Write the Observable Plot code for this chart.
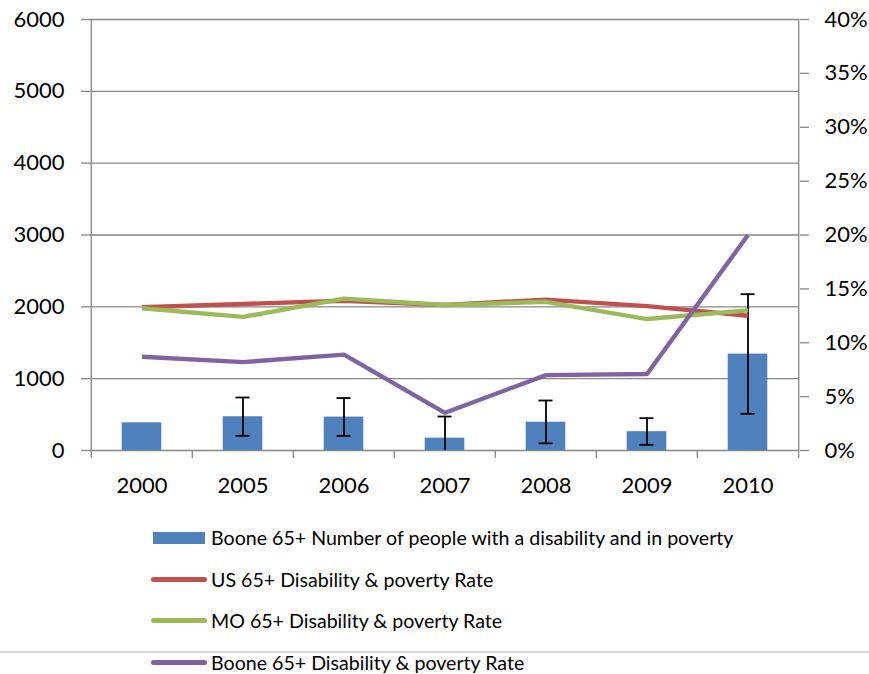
<!DOCTYPE html>
<html>
<head>
<meta charset="utf-8">
<script src="https://cdn.jsdelivr.net/npm/d3@7"></script>
<script src="https://cdn.jsdelivr.net/npm/@observablehq/plot@0.6"></script>
<style>
  html, body { margin: 0; padding: 0; background: #fff; }
  #wrap { position: relative; width: 869px; height: 674px; overflow: hidden; font-family: Lato, "Open Sans", sans-serif; }
  #chart svg { display: block; }
  #legend { padding-top: 12px; }
  .row { height: 41.6px; display: flex; align-items: center; padding-left: 151px; }
  .sw { flex: none; }
  .sw.bar { width: 52.5px; height: 12px; margin-left: 1.5px; margin-right: 6px; }
  .sw.ln { width: 56px; height: 5px; border-radius: 3px; margin-right: 4px; }
  .lbl { font-size: 19.6px; color: #000; white-space: nowrap; }
  #border { position: absolute; left: 0; top: 651px; width: 869px; height: 2px; background: #d9d9d9; }
</style>
</head>
<body>
<div id="wrap">
  <div id="chart"></div>
  <div id="border"></div>
  <div id="legend"></div>
</div>
<script>
// ---- data ----
const years = ["2000", "2005", "2006", "2007", "2008", "2009", "2010"];
const booneCount = [385, 470, 465, 172, 394, 262, 1342];
const booneCountLow = [null, 204, 204, -130, 100, 79, 511];
const booneCountHigh = [null, 738, 730, 473, 696, 450, 2176];
const usRate = [13.3, 13.6, 13.9, 13.5, 14.0, 13.4, 12.5];
const moRate = [13.2, 12.4, 14.1, 13.5, 13.8, 12.2, 13.0];
const booneRate = [8.7, 8.2, 8.9, 3.5, 7.0, 7.1, 20.0];
const leftTicks = [0, 1000, 2000, 3000, 4000, 5000, 6000];
const rightTicks = [0, 5, 10, 15, 20, 25, 30, 35, 40];
const rightTickLabels = ["0%", "5%", "10%", "15%", "20%", "25%", "30%", "35%", "40%"];
const seriesNames = [
  "Boone 65+ Number of people with a disability and in poverty",
  "US 65+ Disability & poverty Rate",
  "MO 65+ Disability & poverty Rate",
  "Boone 65+ Disability & poverty Rate"
];
const colors = ["#4F81BD", "#C0504D", "#9BBB59", "#8064A2"];

// ---- layout ----
const W = 869, H = 505;
const mL = 89, mR = 70, mT = 19, mB = 55;
const leftMax = 6000, rightMax = 40;
const k = leftMax / rightMax; // right-axis value -> left-axis units
const bw = (W - mL - mR) / years.length;
const grid = "#878787";

const bars = years.map((y, i) => ({year: y, value: booneCount[i]}));
const errs = years.map((y, i) => ({year: y, lo: booneCountLow[i], hi: booneCountHigh[i]})).filter(d => d.hi != null);
const rateSeries = [usRate, moRate, booneRate];
const lines = rateSeries.flatMap((arr, s) => years.map((y, i) => ({year: y, rate: arr[i], s: seriesNames[s + 1]})));

const chart = Plot.plot({
  width: W, height: H,
  marginLeft: mL, marginRight: mR, marginTop: mT, marginBottom: mB,
  style: {fontFamily: "Lato, 'Open Sans', sans-serif", fontSize: "22px", color: "#000", background: "#fff"},
  x: {type: "band", domain: years, padding: 0},
  y: {domain: [0, leftMax]},
  marks: [
    Plot.ruleY(leftTicks, {stroke: grid, strokeWidth: 1.3}),
    // category boundary ticks
    Plot.ruleX(years, {x: d => d, dx: -bw / 2, y1: 0, y2: 0, insetBottom: -8, stroke: grid, strokeWidth: 1.3}),
    Plot.ruleX([years[years.length - 1]], {x: d => d, dx: bw / 2, y1: 0, y2: 0, insetBottom: -8, stroke: grid, strokeWidth: 1.3}),
    // vertical axis lines
    Plot.ruleX([years[0]], {x: d => d, dx: -bw / 2, y1: 0, y2: leftMax, stroke: grid, strokeWidth: 1.3}),
    Plot.ruleX([years[years.length - 1]], {x: d => d, dx: bw / 2, y1: 0, y2: leftMax, stroke: grid, strokeWidth: 1.3}),
    // bars
    Plot.barY(bars, {x: "year", y: "value", fill: colors[0], insetLeft: 30.7, insetRight: 30.7}),
    // error bars
    Plot.ruleX(errs, {x: "year", y1: "lo", y2: "hi", stroke: "#000", strokeWidth: 1.8, clip: true}),
    Plot.tickY(errs, {x: "year", y: "hi", stroke: "#000", strokeWidth: 1.8, insetLeft: 43.5, insetRight: 43.5, clip: true}),
    Plot.tickY(errs, {x: "year", y: "lo", stroke: "#000", strokeWidth: 1.8, insetLeft: 43.5, insetRight: 43.5, clip: true}),
    // rate lines (right axis)
    ...rateSeries.map((arr, s) => Plot.line(lines.filter(d => d.s === seriesNames[s + 1]), {
      x: "year", y: d => d.rate * k, stroke: colors[s + 1], strokeWidth: 4.4,
      strokeLinejoin: "round", strokeLinecap: "butt"
    })),
    // axes
    Plot.axisY({anchor: "left", ticks: leftTicks, tickFormat: d => String(d), tickSize: 8, tickPadding: 17,
      stroke: grid, strokeWidth: 1.3, fill: "#000", label: null}),
    Plot.axisY({anchor: "right", ticks: rightTicks.map(v => v * k), tickFormat: (d, i) => rightTickLabels[i],
      tickSize: 9, tickPadding: 16, stroke: grid, strokeWidth: 1.3, fill: "#000", label: null}),
    Plot.axisX({ticks: years, tickSize: 0, tickPadding: 27, fill: "#000", label: null})
  ]
});
document.getElementById("chart").appendChild(chart);

// ---- legend ----
const legend = document.getElementById("legend");
seriesNames.forEach((name, i) => {
  const row = document.createElement("div");
  row.className = "row";
  const sw = document.createElement("div");
  sw.className = "sw " + (i === 0 ? "bar" : "ln");
  sw.style.background = colors[i];
  const lbl = document.createElement("span");
  lbl.className = "lbl";
  lbl.textContent = name;
  row.appendChild(sw);
  row.appendChild(lbl);
  legend.appendChild(row);
});
</script>
</body>
</html>
